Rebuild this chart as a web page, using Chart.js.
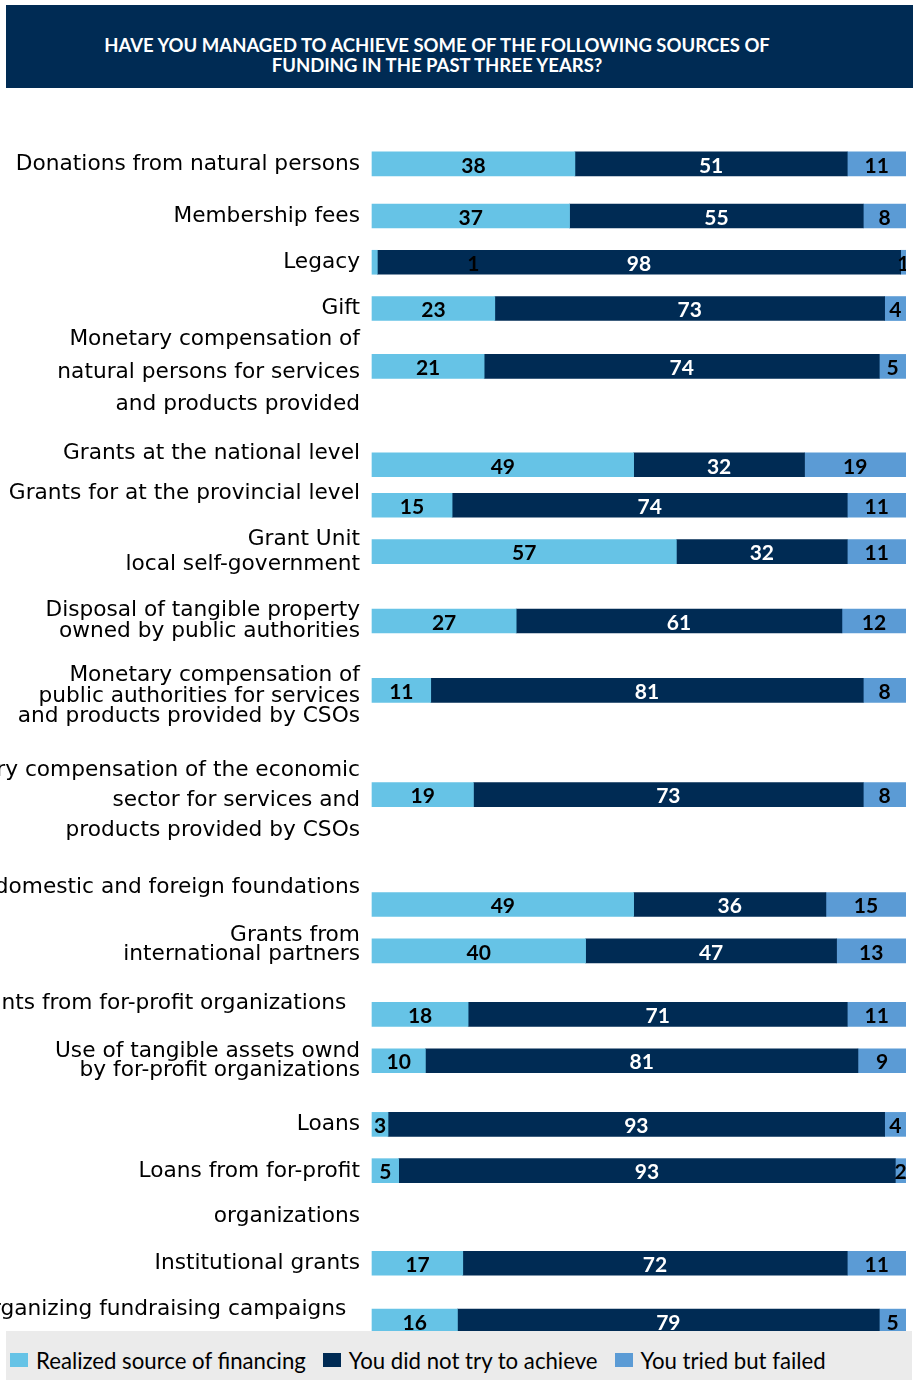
<!DOCTYPE html>
<html lang="en">
<head>
<meta charset="utf-8">
<title>Sources of funding in the past three years</title>
<script src="https://cdn.jsdelivr.net/npm/chart.js@4.4.1/dist/chart.umd.min.js"></script>
<style>
  html, body { margin: 0; padding: 0; background: #ffffff; }
  #wrap { position: relative; width: 915px; height: 1380px; overflow: hidden; }
  #title {
    position: absolute; left: 6px; top: 5px; width: 907px; height: 83px;
    box-sizing: border-box; padding: 30px 45px 0 0;
    background: #002b54; color: #ffffff; text-align: center;
    font: 700 18.5px/20px Lato, "Liberation Sans", sans-serif;
  }
  #chartBox { position: absolute; left: 0; top: 0; width: 906px; height: 1380px; }
  #legend {
    position: absolute; left: 6px; top: 1331px; width: 906px; height: 49px;
    box-sizing: border-box; padding: 9px 0 0 4px; background: #ebebeb;
    display: flex; align-items: center;
    font: 400 22.2px Lato, "Liberation Sans", sans-serif; color: #000000;
  }
  #legend .item { display: flex; align-items: center; margin-right: 17px; white-space: nowrap; }
  #legend .swatch { width: 18px; height: 14px; margin-right: 8px; }
</style>
</head>
<body>
<div id="wrap">
  <div id="chartBox"><canvas id="chart" width="906" height="1380"></canvas></div>
  <div id="title">HAVE YOU MANAGED TO ACHIEVE SOME OF THE FOLLOWING SOURCES OF<br>FUNDING IN THE PAST THREE YEARS?</div>
  <div id="legend"></div>
</div>
<script>
// Category labels (one entry per line of text)
const categories = [
  ['Donations from natural persons'],
  ['Membership fees'],
  ['Legacy'],
  ['Gift'],
  ['Monetary compensation of', 'natural persons for services', 'and products provided'],
  ['Grants at the national level'],
  ['Grants for at the provincial level'],
  ['Grant Unit', 'local self-government'],
  ['Disposal of tangible property', 'owned by public authorities'],
  ['Monetary compensation of', 'public authorities for services', 'and products provided by CSOs'],
  ['Monetary compensation of the economic', 'sector for services and', 'products provided by CSOs'],
  ['Grants from domestic and foreign foundations'],
  ['Grants from', 'international partners'],
  ['Grants from for-profit organizations  '],
  ['Use of tangible assets ownd', 'by for-profit organizations'],
  ['Loans'],
  ['Loans from for-profit', '', 'organizations'],
  ['Institutional grants'],
  ['Organizing fundraising campaigns  ']
];

// Shares of respondents, %
const realized = [38, 37, 1, 23, 21, 49, 15, 57, 27, 11, 19, 49, 40, 18, 10, 3, 5, 17, 16];
const notTried = [51, 55, 98, 73, 74, 32, 74, 32, 61, 81, 73, 36, 47, 71, 81, 93, 93, 72, 79];
const failed   = [11, 8, 1, 4, 5, 19, 11, 11, 12, 8, 8, 15, 13, 11, 9, 4, 2, 11, 5];

const seriesNames = ['Realized source of financing', 'You did not try to achieve', 'You tried but failed'];

// ---- layout: rows sit on a fine grid of category slots, so the gaps between rows can vary
const SLOT_COUNT = 201;
const barSlot   = [0, 9, 17, 25, 35, 52, 59, 67, 79, 91, 109, 128, 136, 147, 155, 166, 174, 190, 200];
const labelSlot = [0, 9, 17, 25, 36, 50, 57, 67, 79, 92, 110, 125, 135, 145, 155, 166, 178, 190, 198];
const labelLineHeight = [0, 0, 0, 0, 32.5, 0, 0, 25, 21, 20.5, 30, 0, 19, 0, 19, 0, 22.5, 0, 0];

// The single "1" label of the Legacy row is set further into the bar
const labelAnchor = { '2:0': 19 };

const colors      = ['#66c3e6', '#002b54', '#5b9bd5'];
const valueColors = ['#000000', '#ffffff', '#000000'];

const slotLabels = Array.from({ length: SLOT_COUNT }, () => '');
const slotLabelRow = new Array(SLOT_COUNT).fill(-1);
const slotBarRow = new Array(SLOT_COUNT).fill(-1);
categories.forEach((lines, i) => { slotLabels[labelSlot[i]] = lines; slotLabelRow[labelSlot[i]] = i; });
barSlot.forEach((s, i) => { slotBarRow[s] = i; });

function spread(values) {
  const out = new Array(SLOT_COUNT).fill(null);
  values.forEach((v, i) => { out[barSlot[i]] = v; });
  return out;
}

const valueLabels = {
  id: 'valueLabels',
  afterDatasetsDraw(chart) {
    const { ctx } = chart;
    const xScale = chart.scales.x;
    ctx.save();
    ctx.font = '700 21px Lato, "Liberation Sans", sans-serif';
    ctx.textAlign = 'center';
    ctx.textBaseline = 'middle';
    chart.data.datasets.forEach((ds, di) => {
      const meta = chart.getDatasetMeta(di);
      meta.data.forEach((bar, slot) => {
        const v = ds.data[slot];
        if (v === null || v === undefined) return;
        const row = slotBarRow[slot];
        let x = (bar.x + bar.base) / 2;
        const anchor = labelAnchor[row + ':' + di];
        if (anchor !== undefined) x = xScale.getPixelForValue(anchor);
        ctx.fillStyle = valueColors[di];
        ctx.fillText(String(v), x, bar.y + 2);
      });
    });
    ctx.restore();
  }
};

const chart = new Chart(document.getElementById('chart'), {
  type: 'bar',
  data: {
    labels: slotLabels,
    datasets: [realized, notTried, failed].map((vals, i) => ({
      label: seriesNames[i],
      data: spread(vals),
      backgroundColor: colors[i],
      borderWidth: 0,
      barThickness: 24,
      clip: false
    }))
  },
  options: {
    indexAxis: 'y',
    responsive: false,
    maintainAspectRatio: false,
    animation: false,
    layout: { padding: { top: 161, bottom: 56, left: 0, right: 0 } },
    plugins: { legend: { display: false }, tooltip: { enabled: false }, title: { display: false } },
    scales: {
      x: { stacked: true, min: 0, max: 100, display: false },
      y: {
        type: 'category',
        stacked: true,
        grid: { display: false, drawTicks: false },
        border: { display: false },
        afterFit(scale) { scale.width = 372; },
        ticks: {
          autoSkip: false,
          padding: 12,
          color: '#000000',
          font(ctx) {
            const row = slotLabelRow[ctx.index];
            const lh = row >= 0 && labelLineHeight[row] ? labelLineHeight[row] + 'px' : 1.2;
            return { family: '"DejaVu Sans", Verdana, sans-serif', size: 21.7, lineHeight: lh };
          }
        }
      }
    }
  },
  plugins: [valueLabels]
});

// Legend strip built from the chart's datasets
const legendEl = document.getElementById('legend');
chart.data.datasets.forEach(ds => {
  const item = document.createElement('div');
  item.className = 'item';
  const sw = document.createElement('span');
  sw.className = 'swatch';
  sw.style.background = ds.backgroundColor;
  const txt = document.createElement('span');
  txt.textContent = ds.label;
  item.appendChild(sw);
  item.appendChild(txt);
  legendEl.appendChild(item);
});
</script>
</body>
</html>
